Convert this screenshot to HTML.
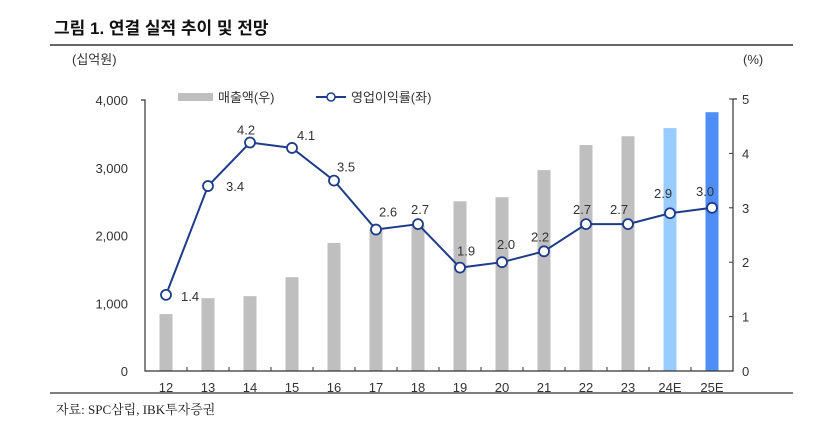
<!DOCTYPE html>
<html><head><meta charset="utf-8"><style>
body{margin:0;background:#fff;width:829px;height:437px;overflow:hidden;font-family:"Liberation Sans","Noto Sans CJK KR",sans-serif}
</style></head><body>
<svg width="829" height="437" xmlns="http://www.w3.org/2000/svg" font-family="Liberation Sans, Noto Sans CJK KR, sans-serif">
<text x="54" y="34" font-size="17" font-weight="bold" fill="#111">그림 1. 연결 실적 추이 및 전망</text>
<line x1="50" y1="45" x2="793" y2="45" stroke="#333" stroke-width="1.5"/>
<text x="72" y="64" font-size="13" fill="#333">(십억원)</text>
<text x="743" y="64" font-size="13" fill="#333">(%)</text>
<rect x="178" y="93" width="35" height="8" fill="#bfbfbf"/>
<text x="218" y="102" font-size="13" fill="#333">매출액(우)</text>
<line x1="316" y1="97" x2="346" y2="97" stroke="#1f3c88" stroke-width="2"/>
<circle cx="331" cy="97" r="4" fill="#fff" stroke="#1f3c88" stroke-width="1.5"/>
<text x="351" y="102" font-size="13" fill="#333">영업이익률(좌)</text>
<g id="g"></g>
<line x1="50" y1="393" x2="793" y2="393" stroke="#333" stroke-width="1.2"/>
<text x="56" y="414" font-size="13" fill="#222" font-family="Liberation Serif, Noto Serif CJK SC, serif">자료: SPC삼립, IBK투자증권</text>
</svg>
<script>
const categories=["12","13","14","15","16","17","18","19","20","21","22","23","24E","25E"];
const sales=[840,1075,1105,1385,1890,2095,2150,2505,2565,2965,3335,3465,3585,3820];
const margin=[1.4,3.4,4.2,4.1,3.5,2.6,2.7,1.9,2.0,2.2,2.7,2.7,2.9,3.0];
const leftTicks=[0,1000,2000,3000,4000];
const rightTicks=[0,1,2,3,4,5];
const labelDx=[15,18,-13,5,3,3,-7,-3,-5,-13,-13,-18,-16,-16];
const labelDy=[6,5,-8,-8,-9,-13,-10,-12,-13,-10,-10,-10,-15,-12];
const L=145,R=733,B=371,T=100;
const x=i=>L+(R-L)/categories.length*(i+0.5);
const yL=v=>B-(B-T)*v/4000;
const yR=v=>B-(B-99)*v/5;
const g=document.getElementById('g');
const NS="http://www.w3.org/2000/svg";
function mk(t,a){const e=document.createElementNS(NS,t);for(const k in a)e.setAttribute(k,a[k]);g.appendChild(e);return e;}
sales.forEach((v,i)=>{
const fill=i==12?'#99ccff':i==13?'#4f8ef7':'#bfbfbf';
const r=mk('rect',{x:x(i)-6.5,y:yL(v),width:13,height:B-yL(v),fill:fill});


});
let ax=mk('path',{d:`M${L-4},${T} H${L} V${B} H${R} V99 H${R+4}`,fill:'none',stroke:'#333','stroke-width':1.2});


leftTicks.forEach(v=>{
const t=mk('text',{x:L-17,y:yL(v)+5,'font-size':13,'text-anchor':'end',fill:'#333'});t.textContent=v.toLocaleString('en-US');


});
rightTicks.forEach(v=>{
mk('line',{x1:R,x2:R-4,y1:yR(v),y2:yR(v),stroke:'#333'});
const t=mk('text',{x:R+9,y:yR(v)+5,'font-size':13,fill:'#333'});t.textContent=v;


});
categories.forEach((c,i)=>{
mk('line',{x1:x(i)+21,x2:x(i)+21,y1:B,y2:B-4,stroke:'#333'});
const t=mk('text',{x:x(i),y:392,'font-size':13,'text-anchor':'middle',fill:'#333'});t.textContent=c;


});
const pl=mk('polyline',{points:margin.map((v,i)=>x(i)+','+yR(v)).join(' '),fill:'none',stroke:'#1f3c88','stroke-width':2});


margin.forEach((v,i)=>{
const c=mk('circle',{cx:x(i),cy:yR(v),r:5,fill:'#fff',stroke:'#1f3c88','stroke-width':1.8});


const t=mk('text',{x:x(i)+labelDx[i],y:yR(v)+labelDy[i],'font-size':13,'text-anchor':'start',fill:'#333'});t.textContent=v.toFixed(1);


});
</script>
</body></html>
